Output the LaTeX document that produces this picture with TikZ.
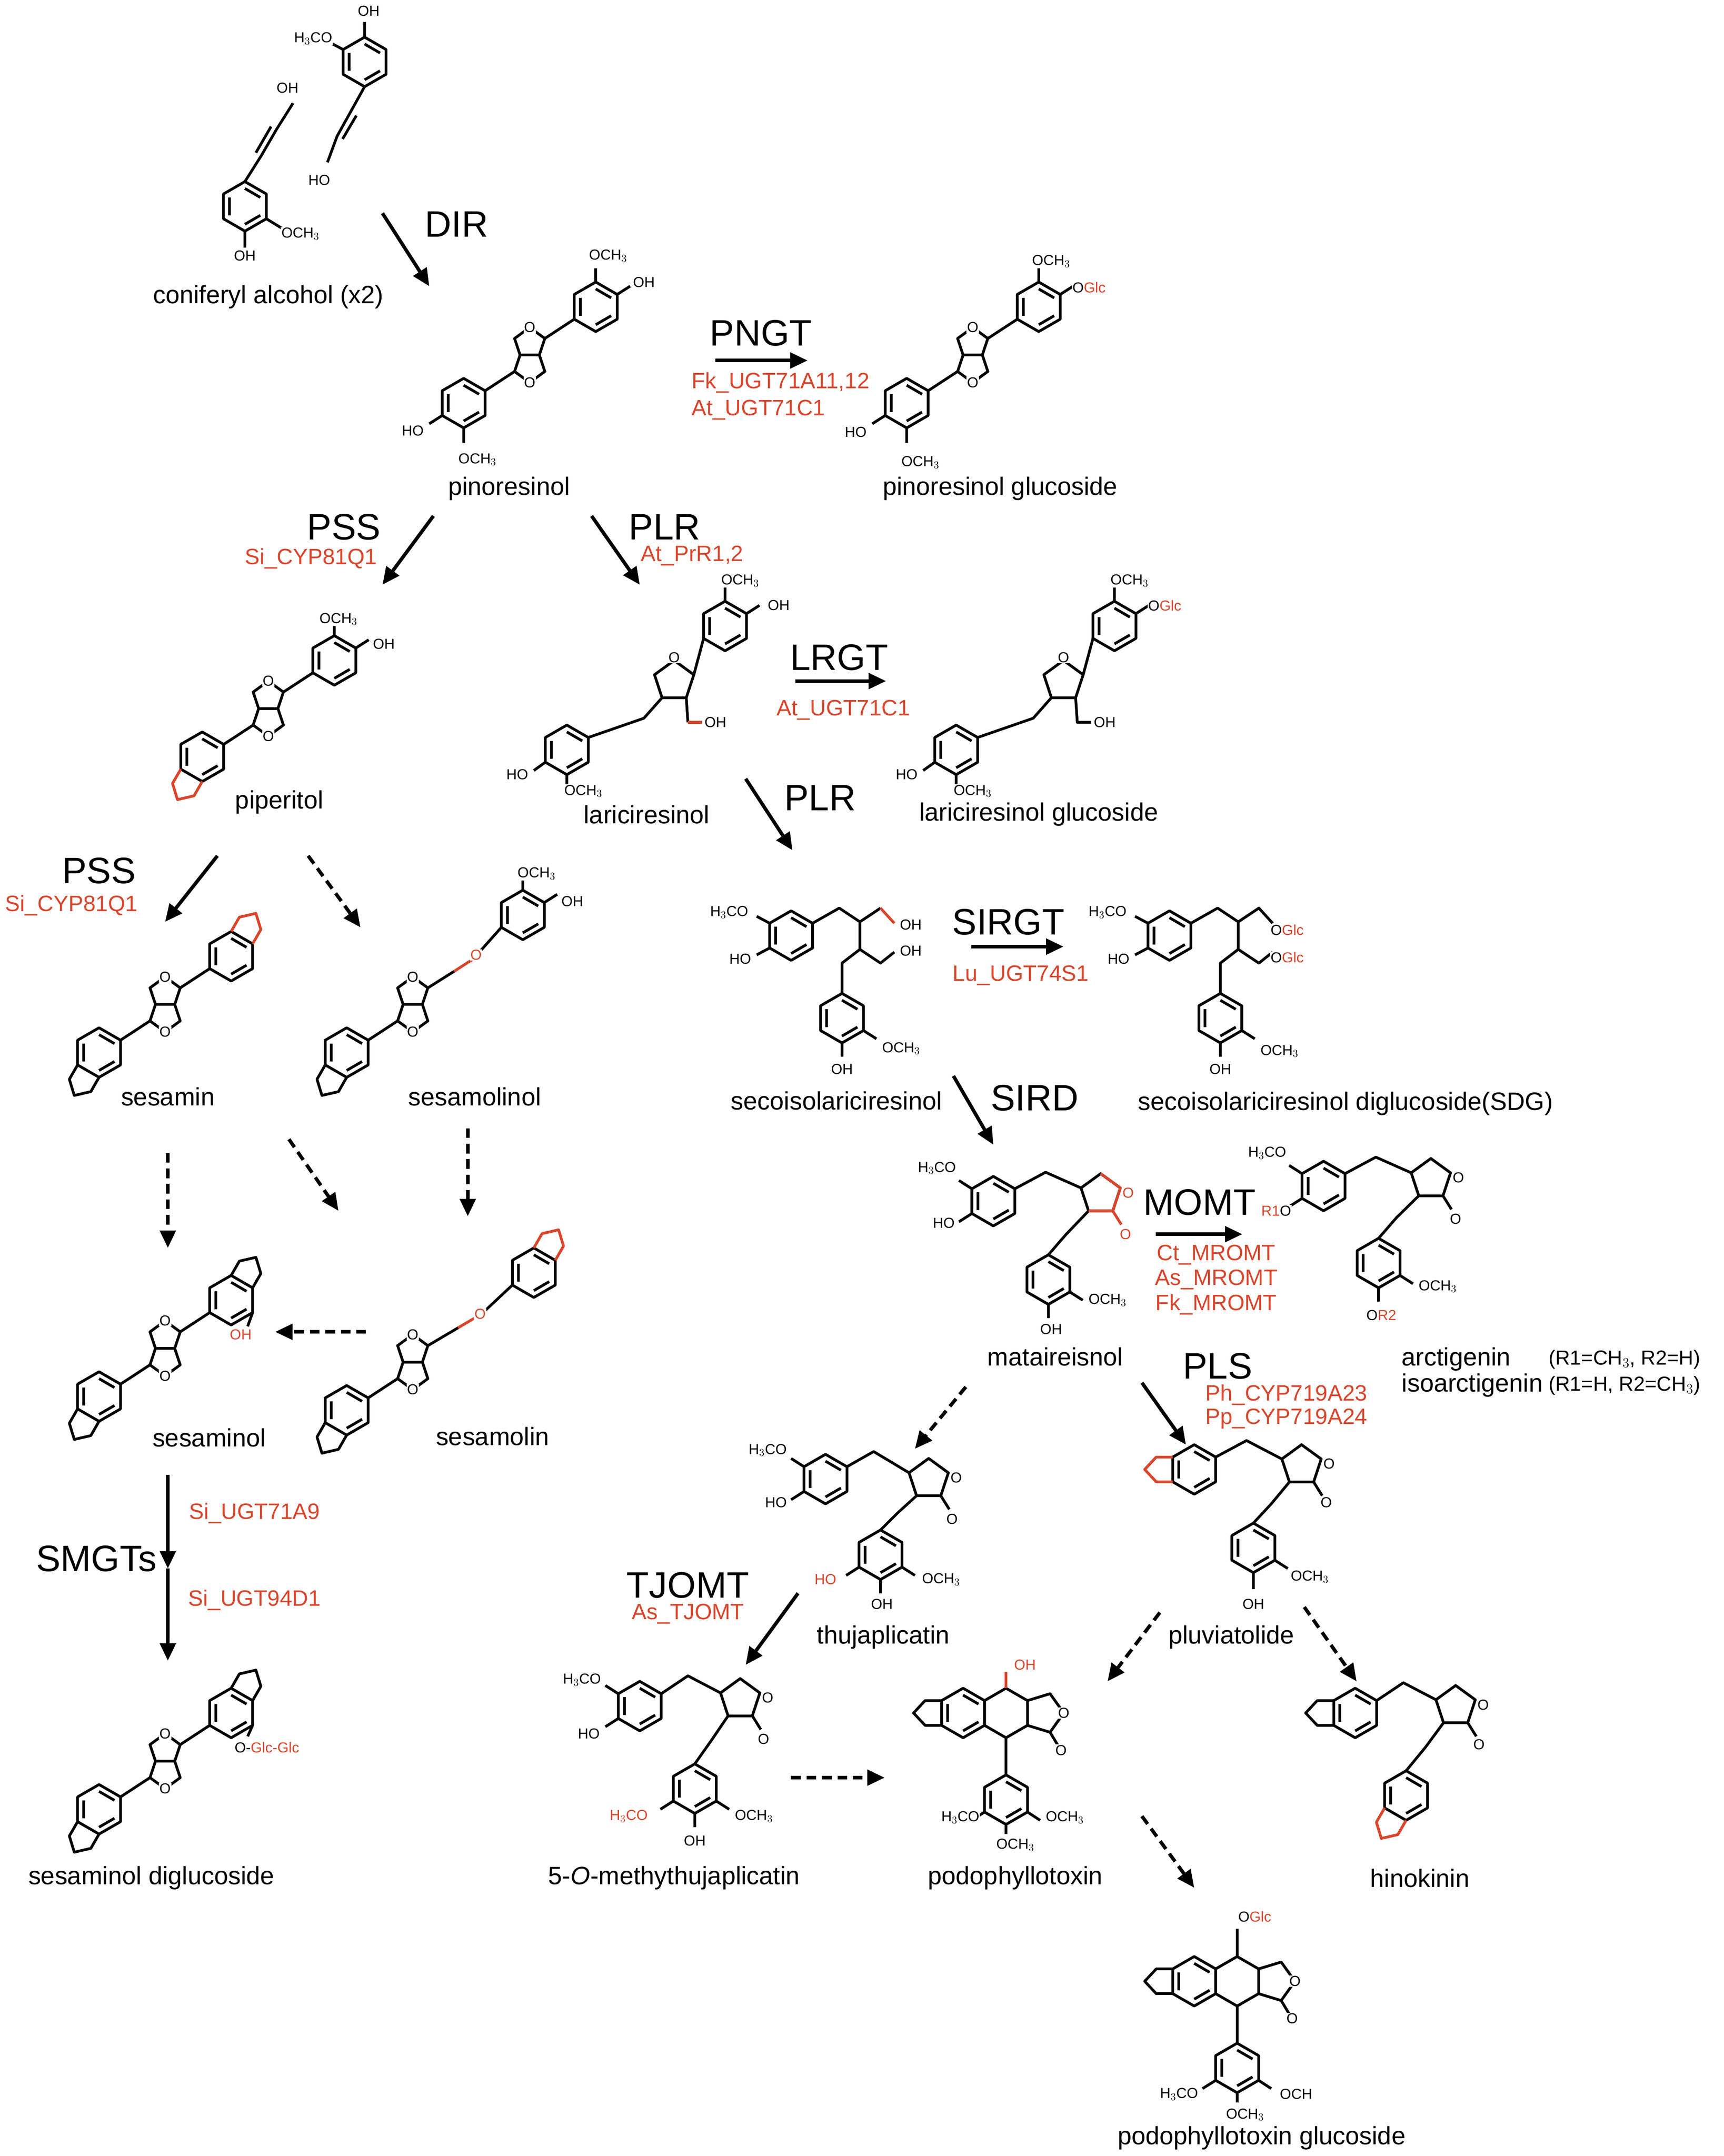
\documentclass[tikz,border=0pt]{standalone}
\usepackage{fontspec}
\setmainfont{Liberation Sans}
\usetikzlibrary{arrows.meta,calc}
\definecolor{gred}{HTML}{D9452B}
\tikzset{
 bond/.style={line width=2.8pt,line join=round},
 lab/.style={font=\fontsize{26}{28}\selectfont,inner sep=1pt},
 enz/.style={font=\fontsize{38}{40}\selectfont,inner sep=1pt},
 gene/.style={font=\fontsize{23}{25}\selectfont,text=gred,inner sep=1pt},
 atm/.style={font=\fontsize{15}{16}\selectfont,inner sep=0.6pt,fill=white},
 ratm/.style={atm,text=gred},
 arr/.style={line width=3.6pt,-{Triangle[length=18pt,width=16pt]}},
 darr/.style={arr,dash pattern=on 10pt off 6pt},
}
\newcommand\bz[2]{\draw[bond,shift={({#1},{#2})}] (0,-18)--(15.6,-9)--(15.6,9)--(0,18)--(-15.6,9)--(-15.6,-9)--cycle (0,-13)--(11.2,-6.5) (11.2,6.5)--(0,13) (-11.2,6.5)--(-11.2,-6.5);}
\newcommand\hx[2]{\draw[bond,shift={({#1},{#2})}] (0,-18)--(15.6,-9)--(15.6,9)--(0,18)--(-15.6,9)--(-15.6,-9)--cycle;}
\newcommand\pent[2]{\draw[bond,shift={({#1},{#2})}] (0,-15)--(14.3,-4.6)--(8.8,12.1)--(-8.8,12.1)--(-14.3,-4.6)--cycle;}
\newcommand\ff[2]{\begin{scope}[shift={({#1},{#2})}]\draw[bond] (-7,0)--(7,0) (-7,0)--(-11,-12)--(0,-20)--(11,-12)--(7,0)--(11,12)--(0,20)--(-11,12)--cycle;
 \node[atm] at (0,-20){O};\node[atm] at (0,20){O};\end{scope}}
\newcommand\pino[2]{\begin{scope}[shift={({#1},{#2})}]\ff{0}{0}\bz{48}{-35}\bz{-48}{35}\draw[bond] (11,-12)--(32.4,-26) (-11,12)--(-32.4,26);\end{scope}}
% dioxole: v1, v2, outward dir
\newcommand\dox[7][black]{\draw[bond,#1] (#2,#3)--($(#2,#3)+(#6,#7)$)--($(#2,#3)!.5!(#4,#5)+1.7*(#6,#7)$)--($(#4,#5)+(#6,#7)$)--(#4,#5);}
% lactone fused on right edge of a hexagon centred at (#1,#2)
\newcommand\lacf[2]{\begin{scope}[shift={({#1},{#2})}]\draw[bond] (15.6,-9)--(32,-14)--(42,0)--(32,14)--(15.6,9) (32,14)--(38,24);
 \node[atm] at (42,0){O};\node[atm] at (40,27){O};\end{scope}}
\begin{document}
\begin{tikzpicture}[x=0.05cm,y=-0.05cm]
\useasboundingbox[fill=white] (0,0) rectangle (1253,1567);
% ---------- coniferyl alcohol
\bz{178}{150}\bz{265}{45}
\draw[bond] (178,132)--(190,113)--(201,94)--(213,75) (186,111)--(197,92);
\node[atm] at (209,64){OH}; \node[atm] at (178,186){OH}; \draw[bond](178,168)--(178,180) (193.6,159)--(205,166);\node[atm,anchor=west] at (204,170){OCH$_3$};
\draw[bond] (265,27)--(265,16) (249.4,36)--(240,31) (265,63)--(255,81)--(245,99)--(238,118) (259,84)--(249,101);
\node[atm] at (268,8){OH};\node[atm,anchor=east] at (242,28){H$_3$CO};\node[atm] at (232,131){HO};
\node[lab] (ca) at (195,216){coniferyl alcohol (x2)};
% ---------- pinoresinol
\pino{385}{258}
\draw[bond] (433,205)--(433,195) (448.6,214)--(458,208) (321.4,302)--(312,308) (337,311)--(337,322);
\node[atm] at (442,186){OCH$_3$};\node[atm] at (468,205){OH};\node[atm] at (300,313){HO};\node[atm] at (347,334){OCH$_3$};
\node[lab] (pin) at (370,355){pinoresinol};
% ---------- pinoresinol glucoside
\pino{707}{258}
\draw[bond] (755,205)--(755,195) (770.6,214)--(780,208) (643.4,302)--(634,308) (659,311)--(659,322);
\node[atm] at (764,190){OCH$_3$};\node[atm,anchor=west] at (779,209){O\textcolor{gred}{Glc}};\node[atm] at (622,314){HO};\node[atm] at (669,336){OCH$_3$};
\node[lab] (ping) at (727,355){pinoresinol glucoside};
% ---------- piperitol
\pino{195}{515}
\draw[bond] (243,462)--(243,452) (258.6,471)--(268,465);
\node[atm] at (246,450){OCH$_3$};\node[atm] at (279,468){OH};
\dox[gred]{131.4}{559}{147}{568}{-6}{10.4}
\node[lab] (pip) at (203,583){piperitol};
% ---------- lariciresinol
\pent{490}{495}\bz{527}{455}\bz{412}{545}
\draw[bond] (504.3,490.4)--(511.4,464) (481.2,507.1)--(468,522)--(427.6,536) (498.8,507.1)--(500,525);
\draw[bond,gred] (500,525)--(510,525);
\node[atm] at (490,478){O};\node[atm] at (520,525){OH};
\draw[bond] (527,437)--(527,427) (542.6,446)--(552,440) (396.4,554)--(388,560) (412,563)--(412,570);
\node[atm] at (538,422){OCH$_3$};\node[atm] at (566,440){OH};\node[atm] at (376,563){HO};\node[atm] at (424,575){OCH$_3$};
\node[lab] (lar) at (470,592){lariciresinol};
% ---------- lariciresinol glucoside
\pent{773}{495}\bz{810}{455}\bz{695}{545}
\draw[bond] (787.3,490.4)--(794.4,464) (764.2,507.1)--(751,522)--(710.6,536) (781.8,507.1)--(783,525)--(793,525);
\node[atm] at (773,478){O};\node[atm] at (803,525){OH};
\draw[bond] (810,437)--(810,427) (825.6,446)--(835,440) (679.4,554)--(671,560) (695,563)--(695,570);
\node[atm] at (821,422){OCH$_3$};\node[atm,anchor=west] at (834,440){O\textcolor{gred}{Glc}};\node[atm] at (659,563){HO};\node[atm] at (707,575){OCH$_3$};
\node[lab] (larg) at (755,592){lariciresinol glucoside};
% ---------- secoisolariciresinol
\bz{575}{680}\bz{612}{740}
\draw[bond] (590.6,671)--(610,660)--(625,670)--(625,690)--(612,700)--(612,722) (625,670)--(640,660) (625,690)--(640,700)--(650,692);
\draw[bond,gred] (640,660)--(650,671);
\draw[bond] (559.4,671)--(550,666) (559.4,689)--(550,694) (612,758)--(612,768) (627.6,749)--(637,755);
\node[atm] at (530,663){H$_3$CO};\node[atm] at (538,697){HO};\node[atm] at (662,672){OH};\node[atm] at (662,691){OH};\node[atm] at (612,777){OH};\node[atm] at (655,762){OCH$_3$};
\node[lab] (seco) at (608,800){secoisolariciresinol};
% ---------- SDG
\bz{850}{680}\bz{887}{740}
\draw[bond] (865.6,671)--(885,660)--(900,670)--(900,690)--(887,700)--(887,722) (900,670)--(915,660)--(925,671) (900,690)--(915,700)--(925,692);
\draw[bond] (834.4,671)--(825,666) (834.4,689)--(825,694) (887,758)--(887,768) (902.6,749)--(912,755);
\node[atm] at (805,663){H$_3$CO};\node[atm] at (813,697){HO};\node[atm,anchor=west] at (923,676){O\textcolor{gred}{Glc}};\node[atm,anchor=west] at (923,696){O\textcolor{gred}{Glc}};\node[atm] at (887,777){OH};\node[atm] at (930,764){OCH$_3$};
\node[lab] (sdg) at (978,802){secoisolariciresinol diglucoside(SDG)};
% ---------- matairesinol
\bz{722}{873}\pent{800}{868}\bz{762}{930}
\draw[bond] (737.6,864)--(760,852)--(785.7,863.4) (791.2,880.1)--(775,897)--(762,912);
\draw[bond,gred] (800,853)--(814.3,863.4)--(808.8,880.1)--(791.2,880.1) (808.8,880.1)--(815,890);
\node[ratm] at (820,867){O};\node[ratm] at (818,897){O};
\draw[bond] (706.4,864)--(697,858) (706.4,882)--(697,888) (762,948)--(762,958) (777.6,939)--(787,945);
\node[atm] at (681,849){H$_3$CO};\node[atm] at (686,889){HO};\node[atm] at (764,966){OH};\node[atm] at (805,945){OCH$_3$};
\node[lab] (mat) at (767,986){mataireisnol};
% ---------- arctigenin
\bz{962}{862}\pent{1040}{857}\bz{1002}{918}
\draw[bond] (977.6,853)--(1000,841)--(1025.7,852.4) (1031.2,869.1)--(1015,885)--(1002,900) (1048.8,869.1)--(1055,879);
\node[atm] at (1060,856){O};\node[atm] at (1058,886){O};
\draw[bond] (946.4,853)--(937,847) (946.4,871)--(937,877) (1002,936)--(1002,946) (1017.6,927)--(1027,933);
\node[atm] at (921,838){H$_3$CO};\node[atm,anchor=east] at (939,880){\textcolor{gred}{R1}O};\node[atm] at (1004,956){O\textcolor{gred}{R2}};\node[atm] at (1045,935){OCH$_3$};
\node[lab,anchor=west] (arc) at (1018,988){arctigenin};
\node[lab,anchor=west] (iarc) at (1018,1007){isoarctigenin};
\node[atm,fill=none,font=\fontsize{21}{23}\selectfont,anchor=west] at (1125,988){(R1=CH$_3$, R2=H)};
\node[atm,fill=none,font=\fontsize{21}{23}\selectfont,anchor=west] at (1125,1007){(R1=H, R2=CH$_3$)};
% ---------- pluviatolide
\bz{868}{1068}\pent{946}{1065}\bz{911}{1125}
\draw[bond] (883.6,1059)--(906,1047)--(931.7,1060.4) (937.2,1077.1)--(924,1093)--(911,1107) (954.8,1077.1)--(961,1087);
\node[atm] at (966,1064){O};\node[atm] at (964,1092){O};
\dox[gred]{852.4}{1059}{852.4}{1077}{-12}{0}
\draw[bond] (911,1143)--(911,1155) (926.6,1134)--(936,1140);
\node[atm] at (911,1166){OH};\node[atm] at (952,1146){OCH$_3$};
\node[lab] (plu) at (895,1190){pluviatolide};
% ---------- thujaplicatin
\bz{600}{1075}\pent{675}{1075}\bz{640}{1130}
\draw[bond] (615.6,1066)--(635,1055)--(660.7,1070.4) (666.2,1087.1)--(652,1100)--(640,1112) (683.8,1087.1)--(690,1097);
\node[atm] at (695,1074){O};\node[atm] at (692,1104){O};
\draw[bond] (584.4,1066)--(575,1060) (584.4,1084)--(575,1090) (624.4,1139)--(615,1145) (640,1148)--(640,1158) (655.6,1139)--(665,1145);
\node[atm] at (558,1054){H$_3$CO};\node[atm] at (564,1092){HO};\node[ratm] at (600,1148){HO};\node[atm] at (641,1166){OH};\node[atm] at (684,1148){OCH$_3$};
\node[lab] (thu) at (642,1190){thujaplicatin};
% ---------- 5-O-methylthujaplicatin
\bz{465}{1240}\pent{538}{1235}\bz{505}{1300}
\draw[bond] (480.6,1231)--(500,1218)--(523.7,1230.4) (529.2,1247.1)--(517,1265)--(505,1282) (546.8,1247.1)--(553,1257);
\node[atm] at (558,1234){O};\node[atm] at (555,1264){O};
\draw[bond] (449.4,1231)--(440,1225) (449.4,1249)--(440,1255) (489.4,1309)--(480,1315) (505,1318)--(505,1328) (520.6,1309)--(530,1315);
\node[atm] at (423,1221){H$_3$CO};\node[atm] at (428,1260){HO};\node[ratm] at (457,1320){H$_3$CO};\node[atm] at (505,1338){OH};\node[atm] at (548,1320){OCH$_3$};
\node[lab] (mthu) at (490,1365){5-\textit{O}-methythujaplicatin};
% ---------- podophyllotoxin
\bz{700}{1245}\hx{731.2}{1245}\lacf{731.2}{1245}\bz{731.2}{1308}
\draw[bond] (731.2,1263)--(731.2,1290);
\draw[bond,gred] (731.2,1227)--(731.2,1215);
\node[ratm] at (745,1210){OH};
\dox{684.4}{1236}{684.4}{1254}{-12}{0}
\draw[bond] (715.6,1317)--(706,1323) (731.2,1326)--(731.2,1333) (746.8,1317)--(756,1323);
\node[atm] at (698,1321){H$_3$CO};\node[atm] at (738,1341){OCH$_3$};\node[atm] at (774,1321){OCH$_3$};
\node[lab] (podo) at (738,1365){podophyllotoxin};
% ---------- hinokinin
\bz{985}{1245}\pent{1058}{1240}\bz{1022}{1305}
\draw[bond] (1000.6,1236)--(1020,1223)--(1043.7,1235.4) (1049.2,1252.1)--(1036,1270)--(1022,1287) (1066.8,1252.1)--(1073,1262);
\node[atm] at (1078,1239){O};\node[atm] at (1075,1268){O};
\dox{969.4}{1236}{969.4}{1254}{-12}{0}
\dox[gred]{1006.4}{1314}{1022}{1323}{-6}{10.4}
\node[lab] (hino) at (1032,1365){hinokinin};
% ---------- podophyllotoxin glucoside
\bz{868}{1440}\hx{899.2}{1440}\lacf{899.2}{1440}\bz{899.2}{1503}
\draw[bond] (899.2,1458)--(899.2,1485) (899.2,1422)--(899.2,1402);
\node[atm] at (912,1393){O\textcolor{gred}{Glc}};
\dox{852.4}{1431}{852.4}{1449}{-12}{0}
\draw[bond] (883.6,1512)--(874,1518) (899.2,1521)--(899.2,1528) (914.8,1512)--(924,1518);
\node[atm] at (857,1522){H$_3$CO};\node[atm] at (905,1537){OCH$_3$};\node[atm] at (942,1522){OCH};
\node[lab] (podog) at (917,1554){podophyllotoxin glucoside};
% ---------- sesamin
\pino{120}{730}
\dox[gred]{168}{677}{183.6}{686}{6}{-10.4}
\dox{56.4}{774}{72}{783}{-6}{10.4}
\node[lab] (ses) at (122,797){sesamin};
% ---------- sesamolinol
\ff{300}{730}\bz{252}{765}\bz{380}{665}
\draw[bond] (289,742)--(267.6,756) (311,718)--(330,706);
\draw[bond,gred] (330,706)--(344,697);
\draw[bond] (344,697)--(364.4,674) (380,647)--(380,637) (395.6,656)--(405,650);
\node[ratm] at (346,694){O};\node[atm] at (390,635){OCH$_3$};\node[atm] at (416,655){OH};
\dox{236.4}{774}{252}{783}{-6}{10.4}
\node[lab] (sesol) at (345,797){sesamolinol};
% ---------- sesaminol
\pino{120}{980}
\dox{168}{927}{183.6}{936}{6}{-10.4}
\dox{56.4}{1024}{72}{1033}{-6}{10.4}
\draw[bond] (183.6,954)--(180,964);\node[ratm] at (175,970){OH};
\node[lab] (sesn) at (152,1045){sesaminol};
% ---------- sesamolin
\ff{300}{990}\bz{252}{1025}\bz{388}{925}
\draw[bond] (289,1002)--(267.6,1016) (311,978)--(333,965);
\draw[bond,gred] (333,965)--(350,955);
\draw[bond] (350,955)--(372.4,934);
\node[ratm] at (349,955){O};
\dox[gred]{388}{907}{403.6}{916}{6}{-10.4}
\dox{236.4}{1034}{252}{1043}{-6}{10.4}
\node[lab] (sesin) at (358,1044){sesamolin};
% ---------- sesaminol diglucoside
\pino{120}{1280}
\dox{168}{1227}{183.6}{1236}{6}{-10.4}
\dox{56.4}{1324}{72}{1333}{-6}{10.4}
\draw[bond] (183.6,1254)--(180,1262);\node[atm,anchor=west] at (170,1270){O-\textcolor{gred}{Glc-Glc}};
\node[lab] (sesdg) at (110,1365){sesaminol diglucoside};
% ---------- arrows
\coordinate (a1) at (278,155);\coordinate (a2) at (312,208);\draw[arr] (a1)--(a2);
\node[enz] at (332,163){DIR};
\coordinate (b1) at (520,262);\coordinate (b2) at (587,262);\draw[arr] (b1)--(b2);
\node[enz] at (553,242){PNGT};\node[gene,anchor=west] at (502,278){Fk\_UGT71A11,12};\node[gene,anchor=west] at (502,298){At\_UGT71C1};
\coordinate (c1) at (315,375);\coordinate (c2) at (278,425);\draw[arr] (c1)--(c2);
\node[enz] at (250,383){PSS};\node[gene] at (226,406){Si\_CYP81Q1};
\coordinate (d1) at (430,375);\coordinate (d2) at (465,425);\draw[arr] (d1)--(d2);
\node[enz] at (483,383){PLR};\node[gene] at (503,404){At\_PrR1,2};
\coordinate (e1) at (578,495);\coordinate (e2) at (644,495);\draw[arr] (e1)--(e2);
\node[enz] at (610,478){LRGT};\node[gene] at (613,516){At\_UGT71C1};
\coordinate (f1) at (542,566);\coordinate (f2) at (576,618);\draw[arr] (f1)--(f2);
\node[enz] at (596,580){PLR};
\coordinate (g1) at (706,688);\coordinate (g2) at (773,688);\draw[arr] (g1)--(g2);
\node[enz] at (733,670){SIRGT};\node[gene] at (742,709){Lu\_UGT74S1};
\coordinate (h1) at (693,782);\coordinate (h2) at (722,832);\draw[arr] (h1)--(h2);
\node[enz] at (752,798){SIRD};
\coordinate (i1) at (840,897);\coordinate (i2) at (903,897);\draw[arr] (i1)--(i2);
\node[enz] at (872,874){MOMT};\node[gene] at (884,912){Ct\_MROMT};\node[gene] at (884,930){As\_MROMT};\node[gene] at (884,948){Fk\_MROMT};
\coordinate (j1) at (830,1005);\coordinate (j2) at (862,1050);\draw[arr] (j1)--(j2);
\node[enz] at (885,993){PLS};\node[gene] at (935,1014){Ph\_CYP719A23};\node[gene] at (935,1031){Pp\_CYP719A24};
\coordinate (k1) at (702,1008);\coordinate (k2) at (665,1053);\draw[darr] (k1)--(k2);
\coordinate (l1) at (580,1158);\coordinate (l2) at (542,1210);\draw[arr] (l1)--(l2);
\node[enz] at (500,1152){TJOMT};\node[gene] at (500,1173){As\_TJOMT};
\coordinate (m1) at (575,1292);\coordinate (m2) at (643,1292);\draw[darr] (m1)--(m2);
\coordinate (n1) at (843,1172);\coordinate (n2) at (805,1222);\draw[darr] (n1)--(n2);
\coordinate (o1) at (948,1168);\coordinate (o2) at (986,1222);\draw[darr] (o1)--(o2);
\coordinate (p1) at (830,1320);\coordinate (p2) at (868,1372);\draw[darr] (p1)--(p2);
\coordinate (q1) at (158,622);\coordinate (q2) at (120,670);\draw[arr] (q1)--(q2);
\node[enz] at (72,633){PSS};\node[gene] at (52,658){Si\_CYP81Q1};
\coordinate (r1) at (224,622);\coordinate (r2) at (262,674);\draw[darr] (r1)--(r2);
\coordinate (s1) at (122,838);\coordinate (s2) at (122,907);\draw[darr] (s1)--(s2);
\coordinate (t1) at (210,828);\coordinate (t2) at (246,880);\draw[darr] (t1)--(t2);
\coordinate (u1) at (340,820);\coordinate (u2) at (340,884);\draw[darr] (u1)--(u2);
\coordinate (v1) at (266,968);\coordinate (v2) at (200,968);\draw[darr] (v1)--(v2);
\coordinate (w1) at (122,1072);\coordinate (w2) at (122,1140);\draw[arr] (w1)--(w2);
\coordinate (x1) at (122,1140);\coordinate (x2) at (122,1207);\draw[arr] (x1)--(x2);
\node[enz] at (70,1133){SMGTs};\node[gene] at (185,1100){Si\_UGT71A9};\node[gene] at (185,1163){Si\_UGT94D1};
\end{tikzpicture}
\end{document}
